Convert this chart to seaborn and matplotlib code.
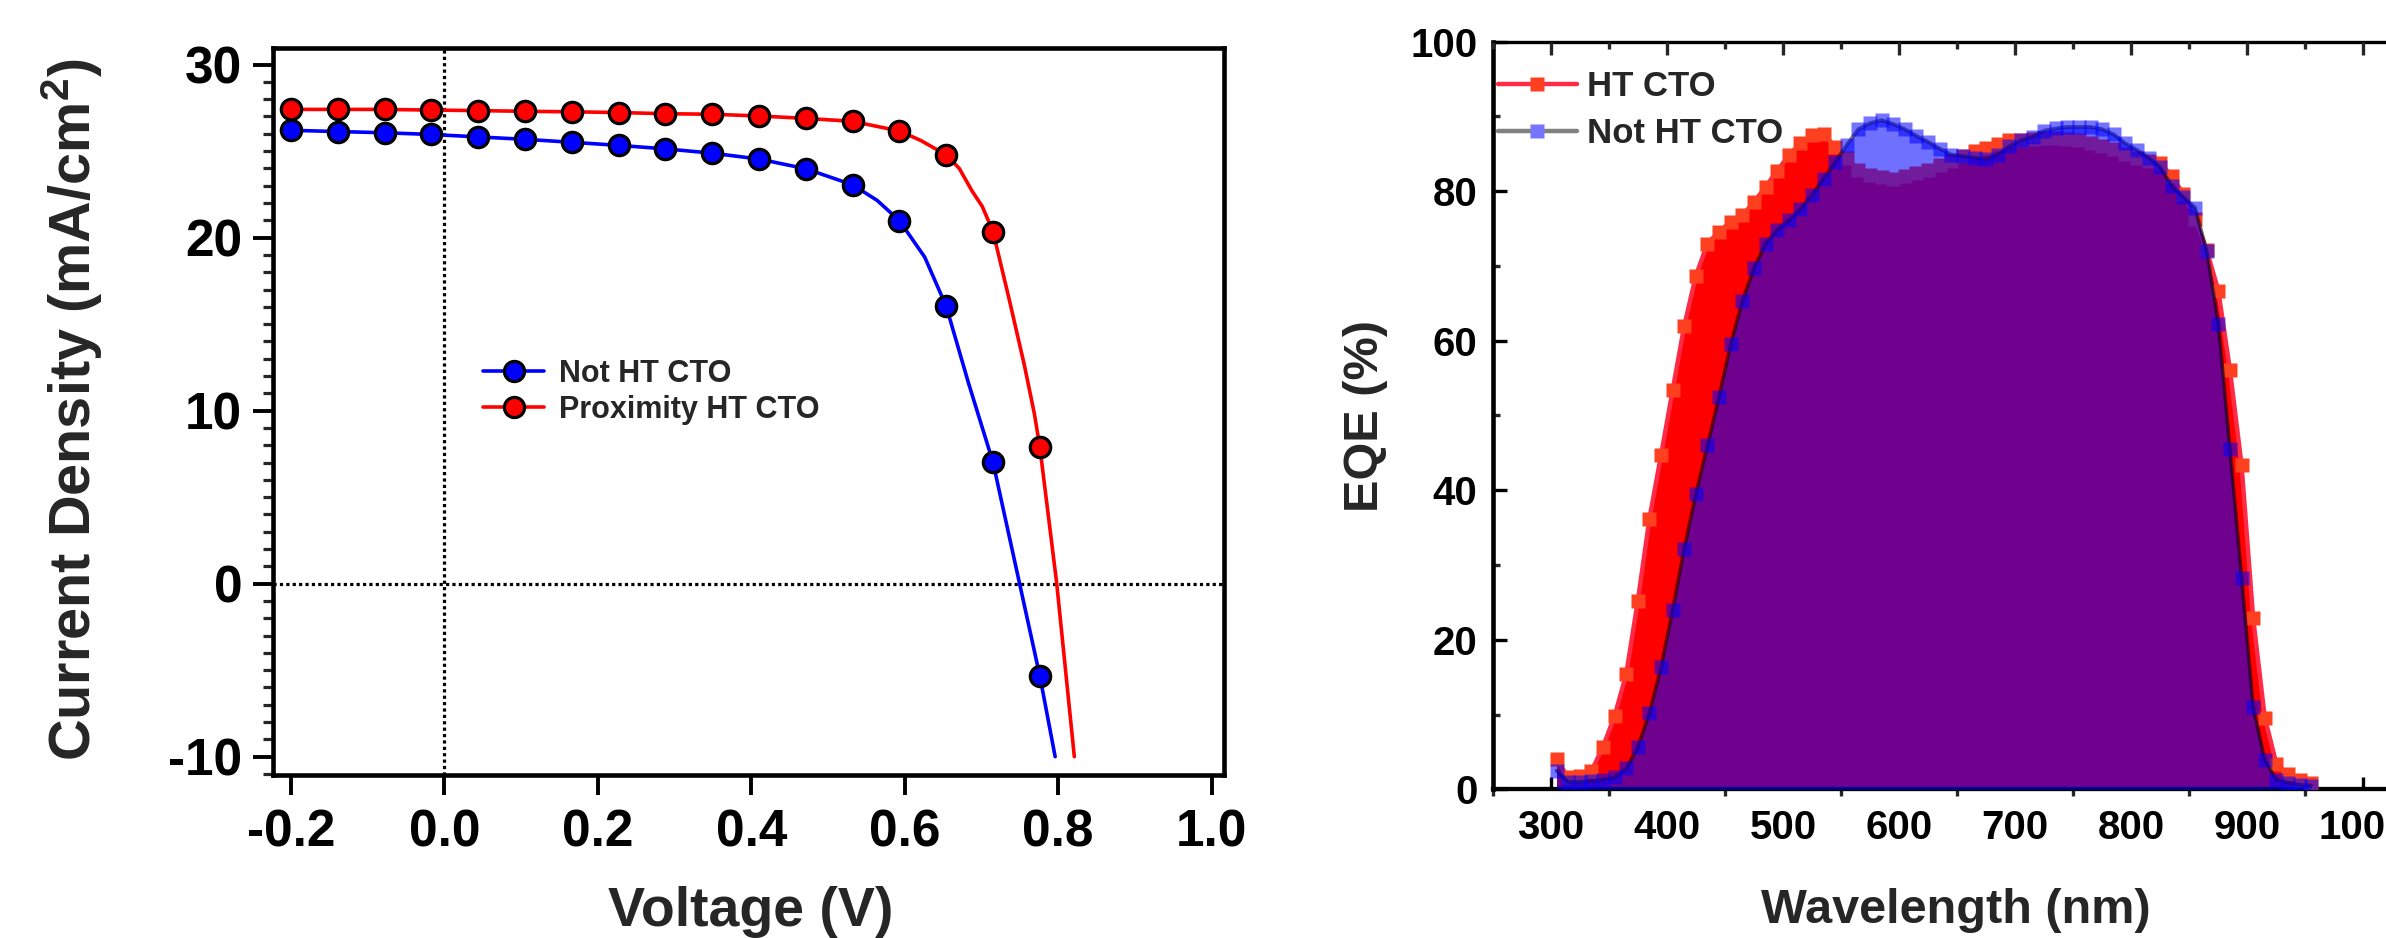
import matplotlib
matplotlib.use("Agg")
import matplotlib.pyplot as plt
import seaborn as sns
from matplotlib.lines import Line2D
from matplotlib.ticker import MultipleLocator, FixedLocator, FixedFormatter

# ---------------- J-V data (left panel) ----------------
jv_voltage = [-0.200, -0.139, -0.078, -0.017, 0.044, 0.105, 0.166, 0.227, 0.288,
              0.349, 0.410, 0.471, 0.532, 0.593, 0.654, 0.715, 0.776]
jv_not_ht = [26.20, 26.13, 26.06, 25.96, 25.82, 25.68, 25.51, 25.33, 25.13,
             24.88, 24.54, 23.98, 23.05, 20.98, 16.03, 7.01, -5.33]
jv_prox_ht = [27.41, 27.41, 27.41, 27.37, 27.34, 27.30, 27.27, 27.23, 27.16,
              27.13, 27.03, 26.89, 26.72, 26.16, 24.78, 20.35, 7.91]

# fitted curves
fit_v_not = [-0.200, -0.139, -0.078, -0.017, 0.044, 0.105, 0.166, 0.227, 0.288,
             0.349, 0.410, 0.471, 0.532, 0.564, 0.593, 0.626, 0.654, 0.683, 0.715,
             0.776, 0.796]
fit_j_not = [26.20, 26.13, 26.06, 25.96, 25.82, 25.68, 25.51, 25.33, 25.13,
             24.88, 24.54, 23.98, 23.05, 22.15, 20.98, 18.87, 16.03, 11.60, 7.01,
             -5.33, -10.0]
fit_v_prox = [-0.200, -0.139, -0.078, -0.017, 0.044, 0.105, 0.166, 0.227, 0.288,
              0.349, 0.410, 0.471, 0.532, 0.593, 0.621, 0.654, 0.671, 0.688, 0.701,
              0.715, 0.736, 0.756, 0.769, 0.776, 0.798, 0.821]
fit_j_prox = [27.41, 27.41, 27.41, 27.37, 27.34, 27.30, 27.27, 27.23, 27.16,
              27.13, 27.03, 26.89, 26.72, 26.16, 25.61, 24.78, 24.00, 22.67, 21.80,
              20.35, 16.45, 12.60, 9.80, 7.91, 0.03, -10.0]

jv_xticks = [-0.2, 0.0, 0.2, 0.4, 0.6, 0.8, 1.0]
jv_xticklabels = ["-0.2", "0.0", "0.2", "0.4", "0.6", "0.8", "1.0"]
jv_yticks = [-10, 0, 10, 20, 30]
jv_labels = ["Not HT CTO", "Proximity HT CTO"]

# ---------------- EQE data (right panel) ----------------
wavelength = [305, 315, 325, 335, 345, 355, 365, 375, 385, 395, 405, 415, 425, 435,
              445, 455, 465, 475, 485, 495, 505, 515, 525, 535, 545, 555, 565, 575,
              585, 595, 605, 615, 625, 635, 645, 655, 665, 675, 685, 695, 705, 715,
              725, 735, 745, 755, 765, 775, 785, 795, 805, 815, 825, 835, 845, 855,
              865, 875, 885, 895, 905, 915, 925, 935, 945, 955]
eqe_ht = [4.0, 1.6, 1.8, 2.4, 5.7, 9.8, 15.4, 25.2, 36.2, 44.7, 53.4, 62.0, 68.7, 73.0,
          74.6, 75.9, 76.8, 78.5, 80.6, 82.7, 84.8, 86.4, 87.5, 87.7, 85.9, 84.4, 82.9, 82.2,
          81.9, 81.7, 82.0, 82.4, 82.9, 83.5, 84.0, 84.7, 85.4, 85.8, 86.3, 86.8, 86.9, 87.0,
          87.1, 87.1, 87.0, 86.8, 86.5, 86.1, 85.6, 85.0, 84.4, 84.0, 83.8, 82.0, 79.6, 76.3,
          72.1, 66.7, 56.1, 43.4, 22.9, 9.6, 3.4, 2.0, 1.3, 0.8]
eqe_not_ht = [2.5, 1.0, 1.0, 1.1, 1.3, 1.6, 2.8, 5.6, 10.2, 16.3, 24.0, 32.2, 39.5, 46.0,
              52.5, 59.5, 65.3, 69.7, 73.0, 74.8, 76.1, 77.6, 79.5, 81.7, 83.9, 86.2, 88.3, 89.1,
              89.5, 89.0, 88.3, 87.4, 86.6, 85.7, 84.9, 84.7, 84.5, 84.3, 84.9, 86.0, 86.8, 87.3,
              88.1, 88.4, 88.6, 88.6, 88.6, 88.3, 87.6, 86.4, 85.5, 84.5, 83.2, 80.7, 79.2, 77.8,
              72.0, 62.3, 45.5, 28.3, 11.0, 3.9, 1.3, 0.9, 0.6, 0.5]
eqe_xticks = [300, 400, 500, 600, 700, 800, 900, 1000]
eqe_yticks = [0, 20, 40, 60, 80, 100]
eqe_labels = ["HT CTO", "Not HT CTO"]

# ---------------- style ----------------
sns.set_style("ticks")
plt.rcParams["font.family"] = ["Liberation Sans", "DejaVu Sans"]
plt.rcParams["font.weight"] = "bold"
plt.rcParams["axes.unicode_minus"] = False
plt.rcParams["mathtext.fontset"] = "custom"
plt.rcParams["mathtext.rm"] = "Liberation Sans:bold"
plt.rcParams["mathtext.bf"] = "Liberation Sans:bold"
plt.rcParams["mathtext.it"] = "Liberation Sans:bold"
plt.rcParams["mathtext.default"] = "rm"

W, H = 2386, 938
fig = plt.figure(figsize=(W / 100, H / 100), dpi=100)
fig.patch.set_facecolor("white")


def px_axes(l, t, r, b):
    return fig.add_axes([l / W, 1 - b / H, (r - l) / W, (b - t) / H])


# ================= left panel =================
ax1 = px_axes(273.4, 47.8, 1223.7, 774.5)
ax1.set_facecolor("white")
ax1.axvline(0, color="black", lw=2.3, ls=(0, (1, 1)), zorder=1)
ax1.axhline(0, color="black", lw=2.3, ls=(0, (1, 1)), zorder=1)

blue = "#0000FF"
red = "#FF0000"
sns.lineplot(x=fit_v_not, y=fit_j_not, ax=ax1, color=blue, lw=2.6, sort=False,
             estimator=None, zorder=2, legend=False)
sns.lineplot(x=fit_v_prox, y=fit_j_prox, ax=ax1, color=red, lw=2.6, sort=False,
             estimator=None, zorder=2, legend=False)
sns.scatterplot(x=jv_voltage, y=jv_not_ht, ax=ax1, color=blue, s=215, marker="o",
                edgecolor="black", linewidth=2.3, zorder=3, legend=False)
sns.scatterplot(x=jv_voltage, y=jv_prox_ht, ax=ax1, color=red, s=215, marker="o",
                edgecolor="black", linewidth=2.3, zorder=3, legend=False)

ax1.set_xlim(-0.223, 1.0157)
ax1.set_ylim(-11.03, 30.97)
ax1.xaxis.set_major_locator(FixedLocator(jv_xticks))
ax1.xaxis.set_major_formatter(FixedFormatter(jv_xticklabels))
ax1.set_yticks(jv_yticks)
ax1.yaxis.set_minor_locator(MultipleLocator(1))
ax1.tick_params(axis="both", which="major", direction="out", length=14.5, width=2.8,
                labelsize=37, colors="black")
ax1.tick_params(axis="x", which="major", pad=10)
ax1.tick_params(axis="y", which="major", pad=8)
ax1.tick_params(axis="y", which="minor", direction="out", length=7, width=2.3)
ax1.tick_params(axis="x", which="minor", bottom=False)
for sp in ax1.spines.values():
    sp.set_visible(True)
    sp.set_linewidth(3.3)
    sp.set_color("black")
ax1.set_xlabel("")
ax1.set_ylabel("")

h_left = [Line2D([0], [0], color=blue, lw=2.6, marker="o", ms=14.5, mfc=blue,
                 mec="black", mew=2.3),
          Line2D([0], [0], color=red, lw=2.6, marker="o", ms=14.5, mfc=red,
                 mec="black", mew=2.3)]
ax1.legend(h_left, jv_labels, loc="upper left", bbox_to_anchor=(483 / W, 1 - 359 / H),
           bbox_transform=fig.transFigure, frameon=False, fontsize=22,
           handlelength=2.0, handletextpad=0.5, labelspacing=0.2, borderpad=0,
           borderaxespad=0, numpoints=1)

fig.text(751 / W, 1 - 926 / H, "Voltage (V)", ha="center", va="baseline", fontsize=40,
         fontweight="bold")
fig.text(72 / W, 1 - 410 / H, "Current Density (mA/cm$^{2}$)", rotation=90,
         ha="center", va="center", fontsize=41.5, fontweight="bold")

# ================= right panel =================
ax2 = px_axes(1492.7, 41.7, 2421.5, 789.3)
ax2.set_facecolor("white")

red_fill = "#FF0000"
red_line = "#FF2A45"
red_mark = "#FF4020"
ax2.fill_between(wavelength, eqe_ht, 0, color=red_fill, lw=0, zorder=1)
sns.lineplot(x=wavelength, y=eqe_ht, ax=ax2, color=red_line, lw=3.2, zorder=2,
             legend=False)
ax2.plot(wavelength, eqe_ht, ls="none", marker="s", ms=9.7, mfc=red_mark, mec="none",
         zorder=3)
ax2.fill_between(wavelength, eqe_not_ht, 0, color="#0000FF", alpha=0.56, lw=0, zorder=4)
sns.lineplot(x=wavelength, y=eqe_not_ht, ax=ax2, color="black", alpha=0.55, lw=2.6,
             zorder=5, legend=False)
ax2.plot(wavelength, eqe_not_ht, ls="none", marker="s", ms=9.7, mfc="#0000FF", mec="none",
         alpha=0.55, zorder=6)

ax2.set_xlim(250, 1050)
ax2.set_ylim(0, 100)
ax2.set_xticks(eqe_xticks)
ax2.xaxis.set_minor_locator(MultipleLocator(50))
ax2.set_yticks(eqe_yticks)
ax2.yaxis.set_minor_locator(MultipleLocator(10))
ax2.tick_params(axis="x", which="major", direction="in", length=9, width=2.4,
                labelsize=29, pad=14, top=False, colors="black")
ax2.tick_params(axis="x", which="minor", direction="out", length=5, width=2.4, top=False)
ax2.tick_params(axis="y", which="major", direction="in", length=10, width=2.4,
                labelsize=29, pad=11, right=False, colors="black")
ax2.tick_params(axis="y", which="minor", direction="in", length=5, width=2.4, right=False)
ax2.spines["left"].set_linewidth(3.3)
ax2.spines["bottom"].set_linewidth(3.1)
ax2.spines["top"].set_linewidth(2.4)
ax2.spines["right"].set_linewidth(2.4)
for sp in ax2.spines.values():
    sp.set_visible(True)
    sp.set_color("black")
ax2.set_xlabel("")
ax2.set_ylabel("")

ax_top = ax2.twiny()
ax_top.set_xlim(ax2.get_xlim())
ax_top.set_xticks(eqe_xticks)
ax_top.xaxis.set_minor_locator(MultipleLocator(50))
ax_top.tick_params(axis="x", which="major", direction="in", length=9, width=2.4,
                   top=True, bottom=False, labeltop=False, labelbottom=False)
ax_top.tick_params(axis="x", which="minor", direction="in", length=5, width=2.4,
                   top=True, bottom=False)
for sp in ax_top.spines.values():
    sp.set_visible(False)

h_right = [Line2D([0], [0], color=red_line, lw=3.2, marker="s", ms=9.7, mfc=red_mark,
                  mec="none"),
           Line2D([0], [0], color="#808080", lw=3.2, marker="s", ms=9.7, mfc="#7575FF",
                  mec="none")]
ax2.legend(h_right, eqe_labels, loc="upper left", bbox_to_anchor=(1498 / W, 1 - 70 / H),
           bbox_transform=fig.transFigure, frameon=False, fontsize=25,
           handlelength=2.27, handletextpad=0.3, labelspacing=0.4, borderpad=0,
           borderaxespad=0, numpoints=1)

fig.text(1956 / W, 1 - 923 / H, "Wavelength (nm)", ha="center", va="baseline",
         fontsize=35, fontweight="bold")
fig.text(1365 / W, 1 - 415.7 / H, "EQE (%)", rotation=90, ha="center", va="center",
         fontsize=35, fontweight="bold")

fig.savefig("out.png", dpi=100, facecolor="white")
